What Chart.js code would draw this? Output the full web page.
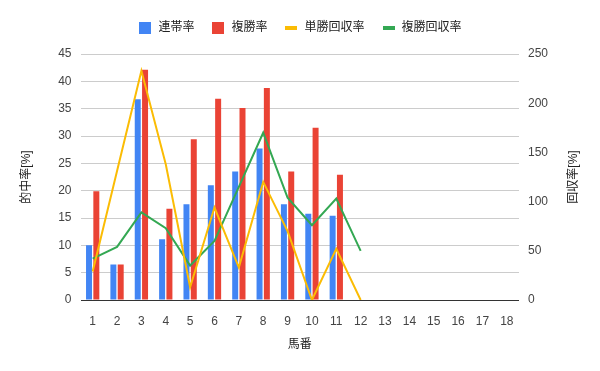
<!DOCTYPE html>
<html>
<head>
<meta charset="utf-8">
<script src="https://cdn.jsdelivr.net/npm/chart.js@4"></script>
<style>
  html, body { margin: 0; padding: 0; background: #fff; }
  #wrap { width: 600px; height: 371px; }
</style>
</head>
<body>
<div id="wrap"><canvas id="chart" width="600" height="371"></canvas></div>
<script>
const horseNumbers = ["1", "2", "3", "4", "5", "6", "7", "8", "9", "10", "11", "12", "13", "14", "15", "16", "17", "18"];

const rentaiRate = [10.0, 6.5, 36.7, 11.1, 17.5, 21.0, 23.5, 27.7, 17.5, 15.8, 15.4, null, null, null, null, null, null, null];
const fukushoRate = [19.9, 6.5, 42.1, 16.7, 29.4, 36.8, 35.1, 38.8, 23.5, 31.5, 22.9, null, null, null, null, null, null, null];
const tanshoReturn = [29, 131, 233, 138, 13, 94, 33, 120, 70, 0, 52, 0, null, null, null, null, null, null];
const fukushoReturn = [42, 54, 89, 73, 35, 60, 115, 170, 104, 76, 103, 50, null, null, null, null, null, null];

const BLUE = "#4285F4";
const RED = "#EA4335";
const YELLOW = "#FBBC04";
const GREEN = "#34A853";

const FONT = "'Liberation Sans', Arial, 'Noto Sans CJK JP', sans-serif";

// little canvases used as legend markers
function marker(color, w, h) {
    const c = document.createElement("canvas");
    c.width = w;
    c.height = h;
    const g = c.getContext("2d");
    g.fillStyle = color;
    g.fillRect(0, 0, w, h);
    return c;
}

// extra room under the legend
const legendGap = {
    id: "legendGap",
    beforeInit(chart) {
        const fit = chart.legend.fit;
        chart.legend.fit = function () {
            fit.bind(chart.legend)();
            this.height += 10;
        };
    }
};

// right axis title, read bottom to top like the left one
const rightTitle = {
    id: "rightTitle",
    afterDraw(chart) {
        const ctx = chart.ctx;
        const area = chart.chartArea;
        ctx.save();
        ctx.translate(574, (area.top + area.bottom) / 2);
        ctx.rotate(-Math.PI / 2);
        ctx.font = "12px " + FONT;
        ctx.fillStyle = "#222";
        ctx.textAlign = "center";
        ctx.textBaseline = "middle";
        ctx.fillText("回収率[%]", 0, 0);
        ctx.restore();
    }
};

new Chart(document.getElementById("chart"), {
    type: "bar",
    data: {
        labels: horseNumbers,
        datasets: [
            {
                label: "連帯率",
                data: rentaiRate,
                backgroundColor: BLUE,
                yAxisID: "y",
                order: 2,
                categoryPercentage: 0.6,
                barPercentage: 0.82
            },
            {
                label: "複勝率",
                data: fukushoRate,
                backgroundColor: RED,
                yAxisID: "y",
                order: 3,
                categoryPercentage: 0.6,
                barPercentage: 0.82
            },
            {
                type: "line",
                label: "単勝回収率",
                data: tanshoReturn,
                borderColor: YELLOW,
                backgroundColor: YELLOW,
                borderWidth: 2,
                pointRadius: 0,
                tension: 0,
                yAxisID: "y1",
                order: 0
            },
            {
                type: "line",
                label: "複勝回収率",
                data: fukushoReturn,
                borderColor: GREEN,
                backgroundColor: GREEN,
                borderWidth: 2,
                pointRadius: 0,
                tension: 0,
                yAxisID: "y1",
                order: 1
            }
        ]
    },
    options: {
        responsive: false,
        animation: false,
        layout: {
            padding: { top: 5, left: 0, right: 0, bottom: 0 }
        },
        plugins: {
            tooltip: { enabled: false },
            legend: {
                position: "top",
                labels: {
                    usePointStyle: true,
                    pointStyleWidth: 14,
                    boxHeight: 12,
                    padding: 17,
                    color: "#222",
                    font: { family: FONT, size: 12 },
                    generateLabels(chart) {
                        const colors = [BLUE, RED, YELLOW, GREEN];
                        return chart.data.datasets.map((ds, i) => ({
                            text: ds.label,
                            datasetIndex: i,
                            hidden: false,
                            fillStyle: colors[i],
                            strokeStyle: colors[i],
                            lineWidth: 0,
                            fontColor: "#222",
                            pointStyle: i < 2 ? marker(colors[i], 12, 12) : marker(colors[i], 12, 4)
                        }));
                    }
                }
            }
        },
        scales: {
            x: {
                offset: true,
                grid: { display: false },
                border: { display: false },
                ticks: {
                    color: "#444",
                    padding: 6,
                    maxRotation: 0,
                    autoSkip: false,
                    font: { family: FONT, size: 12 }
                },
                title: {
                    display: true,
                    text: "馬番",
                    color: "#222",
                    padding: { top: 0, bottom: 19 },
                    font: { family: FONT, size: 12 }
                },
                afterFit: s => { s.height = 71; }
            },
            y: {
                position: "left",
                min: 0,
                max: 45,
                border: { display: false },
                grid: {
                    drawTicks: false,
                    color: c => c.tick.value === 0 ? "#333" : "#ccc"
                },
                ticks: {
                    stepSize: 5,
                    color: "#444",
                    padding: 9,
                    font: { family: FONT, size: 12 }
                },
                title: {
                    display: true,
                    text: "的中率[%]",
                    color: "#222",
                    padding: { top: 19, bottom: 0 },
                    font: { family: FONT, size: 12 }
                },
                afterFit: s => { s.width = 80.5; }
            },
            y1: {
                position: "right",
                min: 0,
                max: 250,
                border: { display: false },
                grid: { display: false, drawTicks: false },
                ticks: {
                    stepSize: 50,
                    color: "#444",
                    padding: 9,
                    font: { family: FONT, size: 12 }
                },
                afterFit: s => { s.width = 81; }
            }
        }
    },
    plugins: [legendGap, rightTitle]
});
</script>
</body>
</html>
